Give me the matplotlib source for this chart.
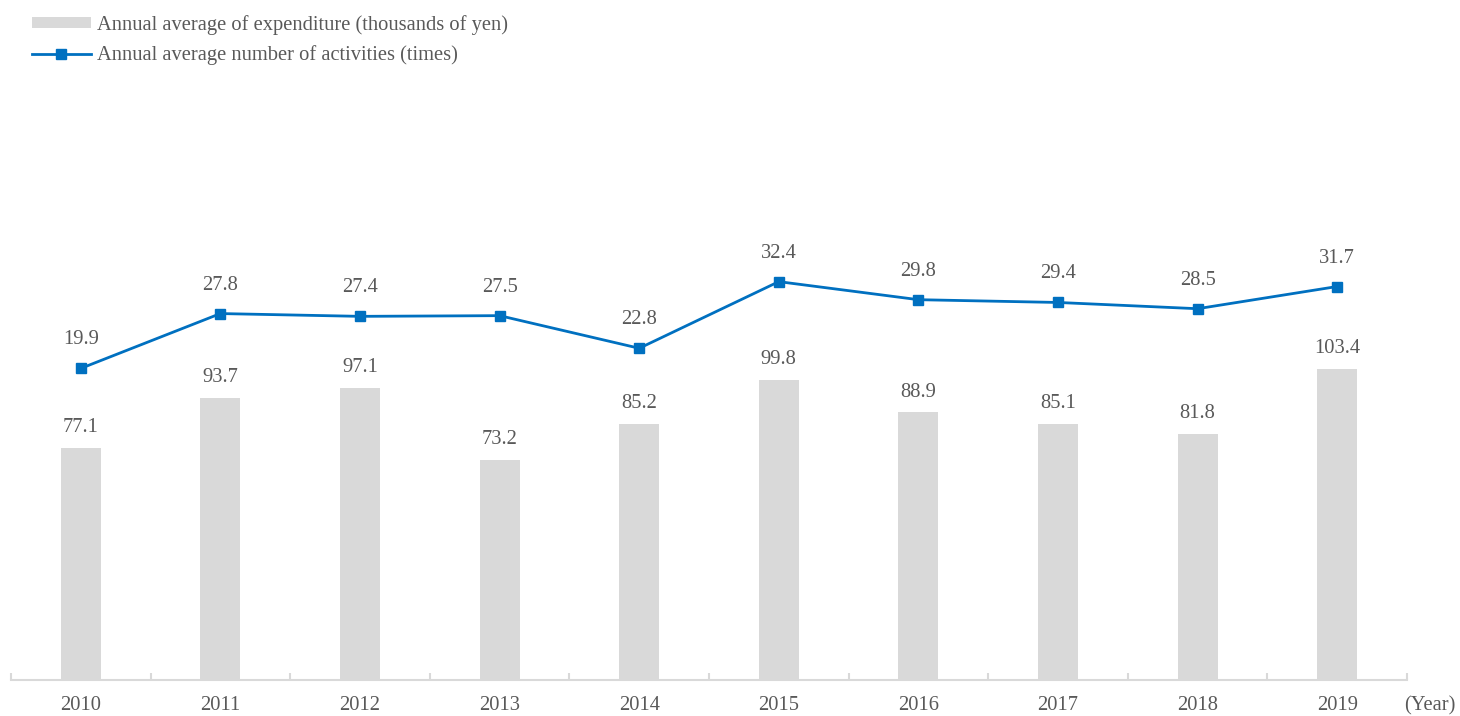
import matplotlib
matplotlib.use("Agg")
import matplotlib.pyplot as plt
from matplotlib.lines import Line2D
from matplotlib.patches import Patch

years = ["2010", "2011", "2012", "2013", "2014", "2015", "2016", "2017", "2018", "2019"]
expenditure = [77.1, 93.7, 97.1, 73.2, 85.2, 99.8, 88.9, 85.1, 81.8, 103.4]
activities = [19.9, 27.8, 27.4, 27.5, 22.8, 32.4, 29.8, 29.4, 28.5, 31.7]
bar_label = "Annual average of expenditure (thousands of yen)"
line_label = "Annual average number of activities (times)"

plt.rcParams['font.family'] = ['Liberation Serif', 'DejaVu Serif']
TXT = '#595959'
BAR = '#D9D9D9'
LINE = '#0070C0'
FS = 14.8

W, H = 1460, 716
fig = plt.figure(figsize=(W / 100, H / 100), dpi=100)
left, right, bottom, top = 11, 1407, 680, 78
ax = fig.add_axes([left / W, (H - bottom) / H, (right - left) / W, (bottom - top) / H])
x = list(range(len(years)))
ax.bar(x, expenditure, width=0.286, color=BAR, zorder=1)
ax.set_xlim(-0.5, len(years) - 0.5)
ax.set_ylim(0, 200)
for xi, v in zip(x, expenditure):
    ax.annotate(f"{v:.1f}", (xi, v), xytext=(0, 14.5), textcoords='offset points',
                ha='center', va='center', fontsize=FS, color=TXT)

ax2 = ax.twinx()
ax2.plot(x, activities, color=LINE, lw=2.0, marker='s', ms=6.5, zorder=3)
ax2.set_ylim(-25, -25 + (bottom - top) / 6.94)
for xi, v in zip(x, activities):
    ax2.annotate(f"{v:.1f}", (xi, v), xytext=(0, 20.5), textcoords='offset points',
                 ha='center', va='center', fontsize=FS, color=TXT)

for a in (ax, ax2):
    for s in ['top', 'right', 'left']:
        a.spines[s].set_visible(False)
    a.set_yticks([])
ax2.spines['bottom'].set_visible(False)
ax.spines['bottom'].set_color('#D9D9D9')
ax.spines['bottom'].set_linewidth(1.5)
ax.set_xticks([i - 0.5 for i in range(len(years) + 1)])
ax.set_xticklabels([])
ax.tick_params(axis='x', direction='in', length=5, width=1.5, color='#D9D9D9')
for xi, yr in zip(x, years):
    ax.text(xi, -26 / (bottom - top), yr, transform=ax.get_xaxis_transform(),
            ha='center', va='center', fontsize=FS, color=TXT)
fig.text(1430 / W, 1 - 706 / H, "(Year)", ha='center', va='center', fontsize=FS, color=TXT)

handles = [Patch(facecolor=BAR, edgecolor='none'),
           Line2D([0], [0], color=LINE, lw=2.0, marker='s', ms=6.5)]
leg = fig.legend(handles, [bar_label, line_label], loc='upper left',
                 bbox_to_anchor=(32 / W, 1 - 15 / H), frameon=False, fontsize=FS,
                 handlelength=2.85, handleheight=0.5, handletextpad=0.3, labelspacing=0.5,
                 borderaxespad=0, borderpad=0)
for t in leg.get_texts():
    t.set_color(TXT)

fig.savefig("out.png", dpi=100)
